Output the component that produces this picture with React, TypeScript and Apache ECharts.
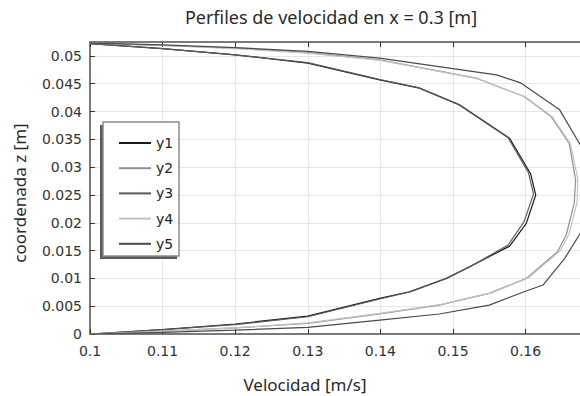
import React, { useEffect, useRef } from 'react';
import * as echarts from 'echarts';

const seriesNames = ['y1', 'y2', 'y3', 'y4', 'y5'];
const seriesColors = ['#1a1a1a', '#8f8f8f', '#5a5a5a', '#c2c2c2', '#4a4a4a'];

const xTicks = [0.1, 0.11, 0.12, 0.13, 0.14, 0.15, 0.16];
const yTicks = [0, 0.005, 0.01, 0.015, 0.02, 0.025, 0.03, 0.035, 0.04, 0.045, 0.05];

const titleText = 'Perfiles de velocidad en x = 0.3 [m]';
const xName = 'Velocidad [m/s]';
const yName = 'coordenada z [m]';

// [velocidad, z]
const y1 = [
  [0.1, 0], [0.11, 0.0008], [0.12, 0.0018], [0.13, 0.0032], [0.1399, 0.0064], [0.144, 0.0076],
  [0.1491, 0.01], [0.1523, 0.0121], [0.1578, 0.0158], [0.1601, 0.0199], [0.1614, 0.025],
  [0.1607, 0.0288], [0.1578, 0.0352], [0.1509, 0.0412], [0.1454, 0.0442], [0.1399, 0.0457],
  [0.13, 0.0487], [0.12, 0.0502], [0.11, 0.0513], [0.1, 0.0522],
];
const y2 = [
  [0.1, 0], [0.11, 0.0005], [0.12, 0.0011], [0.13, 0.0019], [0.1399, 0.0036], [0.1481, 0.0052],
  [0.155, 0.0073], [0.1601, 0.01], [0.1644, 0.0148], [0.1656, 0.0178], [0.1667, 0.0235],
  [0.1669, 0.0277], [0.166, 0.0343], [0.1635, 0.0391], [0.1598, 0.0427], [0.1532, 0.046],
  [0.1399, 0.0493], [0.13, 0.0506], [0.12, 0.0514], [0.11, 0.0519], [0.1, 0.0523],
];
const y3 = [
  [0.1, 0], [0.11, 0.0008], [0.12, 0.0017], [0.13, 0.0031], [0.1399, 0.0063], [0.1442, 0.0076],
  [0.1493, 0.0101], [0.1525, 0.0122], [0.1576, 0.016], [0.1598, 0.0202], [0.1611, 0.0252],
  [0.1604, 0.029], [0.1576, 0.0353], [0.1507, 0.0413], [0.1452, 0.0443], [0.1398, 0.0458],
  [0.13, 0.0488], [0.12, 0.0502], [0.11, 0.0513], [0.1, 0.0522],
];
const y4 = [
  [0.1, 0], [0.11, 0.0005], [0.12, 0.0011], [0.13, 0.002], [0.1399, 0.0037], [0.1483, 0.0053],
  [0.1553, 0.0074], [0.1604, 0.0101], [0.1648, 0.015], [0.166, 0.018], [0.1671, 0.0237],
  [0.1672, 0.0278], [0.1662, 0.0342], [0.1637, 0.039], [0.16, 0.0426], [0.1534, 0.0459],
  [0.14, 0.0492], [0.13, 0.0505], [0.12, 0.0513], [0.11, 0.0519], [0.1, 0.0523],
];
const y5 = [
  [0.1, 0], [0.11, 0.0003], [0.12, 0.0007], [0.13, 0.0012], [0.1399, 0.0025], [0.1481, 0.0036],
  [0.155, 0.0052], [0.1598, 0.0076], [0.1624, 0.0088], [0.1654, 0.0136], [0.1674, 0.0178],
  [0.1701, 0.023], [0.1704, 0.029], [0.1674, 0.0343], [0.1647, 0.0403], [0.1594, 0.0451],
  [0.156, 0.0466], [0.1399, 0.0496], [0.13, 0.0508], [0.12, 0.0515], [0.11, 0.052], [0.1, 0.0523],
];

const seriesData = [y1, y2, y3, y4, y5];

const fmt = (v: number) => String(+v.toFixed(4));

export default function App() {
  const ref = useRef<HTMLDivElement>(null);

  useEffect(() => {
    if (!ref.current) return;
    const chart = echarts.init(ref.current, undefined, { renderer: 'svg' });
    const axisColor = '#7a7a7a';
    const labelFont = { fontFamily: 'DejaVu Sans', fontSize: 14, color: '#333' };
    const nameFont = { fontFamily: 'Noto Sans', fontSize: 17, fill: '#2a2a2a', align: 'center', verticalAlign: 'middle' };

    const option: any = {
      animation: false,
      backgroundColor: '#ffffff',
      grid: { left: 90, right: 0, top: 42, bottom: 62, containLabel: false },
      xAxis: [
        {
          type: 'value',
          min: 0.1,
          max: 0.1675,
          interval: 0.01,
          position: 'bottom',
          axisLine: { show: true, onZero: false, lineStyle: { color: axisColor, width: 2 } },
          axisTick: { show: true, inside: true, length: 5, lineStyle: { color: '#333', width: 1 } },
          axisLabel: {
            ...labelFont,
            margin: 10,
            showMaxLabel: false,
            formatter: (v: number) => (xTicks.some((t) => Math.abs(t - v) < 1e-6) ? fmt(v) : ''),
          },
          splitLine: { show: true, lineStyle: { color: '#e6e6e6', width: 1 } },
        },
        {
          type: 'value',
          min: 0.1,
          max: 0.1675,
          interval: 0.01,
          position: 'top',
          axisLine: { show: true, onZero: false, lineStyle: { color: axisColor, width: 2 } },
          axisTick: { show: true, inside: true, length: 5, lineStyle: { color: '#333', width: 1 } },
          axisLabel: { show: false },
          splitLine: { show: false },
        },
      ],
      yAxis: {
        type: 'value',
        min: 0,
        max: 0.0525,
        interval: 0.005,
        axisLine: { show: true, onZero: false, lineStyle: { color: axisColor, width: 2 } },
        axisTick: { show: true, inside: true, length: 5, lineStyle: { color: '#333', width: 1 } },
        axisLabel: {
          ...labelFont,
          margin: 8,
          formatter: (v: number) => (yTicks.some((t) => Math.abs(t - v) < 1e-7) ? fmt(v) : ''),
        },
        splitLine: { show: true, lineStyle: { color: '#e6e6e6', width: 1 } },
      },
      legend: {
        data: seriesNames,
        orient: 'vertical',
        left: 113,
        top: 131,
        itemWidth: 32,
        itemHeight: 14,
        itemGap: 11.2,
        z: 20,
        itemStyle: { opacity: 0 },
        textStyle: { fontFamily: 'DejaVu Sans', fontSize: 14, color: '#222' },
      },
      graphic: [
        {
          type: 'rect',
          z: 15,
          shape: { x: 100, y: 125, width: 77, height: 134 },
          style: { fill: '#5a5a5a' },
        },
        {
          type: 'rect',
          z: 16,
          shape: { x: 103, y: 122, width: 76, height: 134 },
          style: { fill: '#ffffff', stroke: '#8a8a8a', lineWidth: 1.5 },
        },
        { type: 'text', x: 331, y: 17, style: { text: titleText, ...nameFont, fontSize: 18 } },
        { type: 'text', x: 305, y: 384, style: { text: xName, ...nameFont } },
        { type: 'text', x: 19, y: 193, rotation: Math.PI / 2, style: { text: yName, ...nameFont } },
      ],
      series: seriesNames.map((name, i) => ({
        name,
        type: 'line',
        xAxisIndex: 0,
        data: seriesData[i],
        symbol: 'none',
        showSymbol: false,
        clip: true,
        color: seriesColors[i],
        lineStyle: { color: seriesColors[i], width: 1.2 },
        z: 3,
      })),
    };

    chart.setOption(option);
    return () => chart.dispose();
  }, []);

  return <div ref={ref} style={{ width: 580, height: 396, position: 'absolute', left: 0, top: 0 }} />;
}
